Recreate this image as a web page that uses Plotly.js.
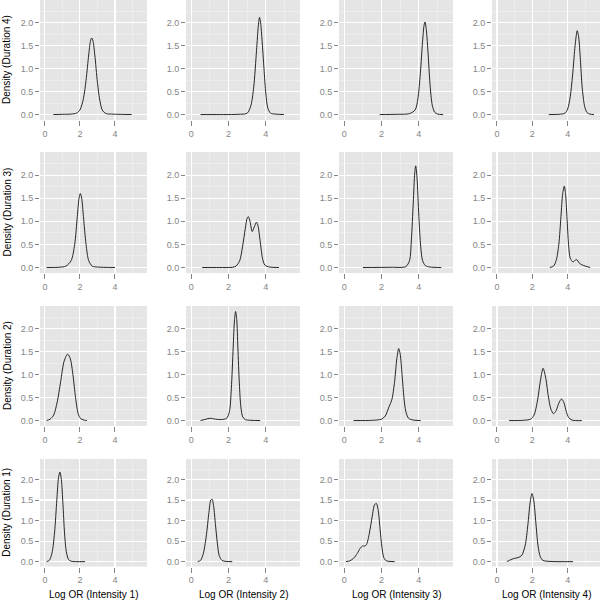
<!DOCTYPE html>
<html>
<head>
<meta charset="utf-8">
<script src="https://cdn.plot.ly/plotly-3.0.1.min.js"></script>
<style>html,body{margin:0;padding:0;background:#fff}#chart{width:600px;height:600px}</style>
</head>
<body>
<div id="chart"></div>
<script>
// Row / column labels
const durations = ['Duration 4', 'Duration 3', 'Duration 2', 'Duration 1'];
const intensities = ['Intensity 1', 'Intensity 2', 'Intensity 3', 'Intensity 4'];

// Tick labels
const xTickVals = [0, 2, 4];
const xTickText = ['0', '2', '4'];
const yTickVals = [0, 0.5, 1, 1.5, 2];
const yTickText = ['0.0', '0.5', '1.0', '1.5', '2.0'];

// Density curves (Log OR, density)
// Duration 4
const d4i1_x = [0.48, 1.0, 1.5, 1.8, 2.0, 2.2, 2.35, 2.5, 2.6, 2.67, 2.75, 2.85, 3.0, 3.15, 3.3, 3.5, 3.8, 4.2, 4.95];
const d4i1_y = [0, 0.005, 0.01, 0.03, 0.1, 0.35, 0.75, 1.3, 1.6, 1.67, 1.6, 1.3, 0.7, 0.28, 0.08, 0.02, 0.01, 0.005, 0];
const d4i2_x = [0.5, 1.5, 2.5, 3.0, 3.2, 3.35, 3.5, 3.6, 3.66, 3.72, 3.8, 3.9, 4.0, 4.1, 4.25, 4.5, 4.97];
const d4i2_y = [0, 0, 0.005, 0.03, 0.2, 0.6, 1.4, 1.95, 2.12, 2.0, 1.6, 1.0, 0.45, 0.15, 0.03, 0.01, 0];
const d4i3_x = [1.9, 2.8, 3.5, 3.8, 3.95, 4.08, 4.2, 4.28, 4.33, 4.4, 4.5, 4.6, 4.72, 4.85, 5.0, 5.3];
const d4i3_y = [0, 0.005, 0.02, 0.1, 0.35, 0.9, 1.6, 1.95, 2.02, 1.85, 1.3, 0.65, 0.2, 0.05, 0.01, 0];
const d4i4_x = [2.93, 3.5, 3.85, 4.0, 4.15, 4.3, 4.42, 4.54, 4.62, 4.72, 4.82, 4.95, 5.08, 5.25, 5.49];
const d4i4_y = [0, 0.005, 0.03, 0.12, 0.4, 0.95, 1.5, 1.83, 1.7, 1.2, 0.6, 0.2, 0.05, 0.01, 0];
// Duration 3
const d3i1_x = [0.1, 0.8, 1.2, 1.5, 1.7, 1.85, 1.95, 2.02, 2.1, 2.2, 2.35, 2.5, 2.7, 3.0, 4.0];
const d3i1_y = [0, 0.005, 0.03, 0.15, 0.5, 1.1, 1.5, 1.6, 1.5, 1.1, 0.5, 0.15, 0.03, 0.01, 0];
const d3i2_x = [0.59, 1.5, 2.2, 2.4, 2.6, 2.75, 2.9, 3.0, 3.06, 3.15, 3.27, 3.38, 3.5, 3.58, 3.7, 3.82, 3.95, 4.2, 4.7];
const d3i2_y = [0, 0, 0.005, 0.03, 0.15, 0.45, 0.85, 1.07, 1.10, 1.0, 0.78, 0.88, 0.98, 0.9, 0.55, 0.2, 0.05, 0.01, 0];
const d3i3_x = [1.0, 2.5, 3.3, 3.5, 3.6, 3.7, 3.78, 3.83, 3.9, 4.0, 4.1, 4.2, 4.35, 4.6, 5.2];
const d3i3_y = [0, 0.005, 0.02, 0.15, 0.6, 1.4, 2.05, 2.2, 1.95, 1.1, 0.45, 0.15, 0.04, 0.01, 0];
const d3i4_x = [2.99, 3.2, 3.35, 3.5, 3.62, 3.72, 3.81, 3.88, 3.96, 4.05, 4.15, 4.3, 4.4, 4.52, 4.65, 4.8, 5.0, 5.27];
const d3i4_y = [0, 0.03, 0.15, 0.5, 1.1, 1.6, 1.76, 1.6, 1.1, 0.5, 0.2, 0.12, 0.15, 0.17, 0.1, 0.06, 0.03, 0];
// Duration 2
const d2i1_x = [0.1, 0.3, 0.5, 0.7, 0.9, 1.1, 1.3, 1.45, 1.6, 1.75, 1.9, 2.05, 2.3, 2.4];
const d2i1_y = [0, 0.03, 0.12, 0.4, 0.85, 1.3, 1.45, 1.35, 1.0, 0.5, 0.15, 0.04, 0.005, 0];
const d2i2_x = [0.5, 0.8, 1.0, 1.3, 1.6, 1.9, 2.05, 2.15, 2.25, 2.32, 2.38, 2.44, 2.5, 2.58, 2.66, 2.76, 2.9, 3.2, 3.7];
const d2i2_y = [0, 0.03, 0.05, 0.03, 0.02, 0.05, 0.2, 0.7, 1.6, 2.2, 2.38, 2.2, 1.6, 0.8, 0.3, 0.08, 0.02, 0.005, 0];
const d2i3_x = [0.5, 1.5, 2.0, 2.2, 2.4, 2.55, 2.7, 2.82, 2.92, 3.0, 3.1, 3.2, 3.3, 3.45, 3.7, 4.1];
const d2i3_y = [0, 0.005, 0.03, 0.1, 0.3, 0.45, 0.85, 1.35, 1.57, 1.45, 1.0, 0.5, 0.2, 0.05, 0.01, 0];
const d2i4_x = [0.69, 1.5, 1.9, 2.1, 2.3, 2.45, 2.61, 2.75, 2.9, 3.05, 3.2, 3.35, 3.5, 3.65, 3.78, 3.92, 4.05, 4.24, 4.8];
const d2i4_y = [0, 0.005, 0.03, 0.12, 0.45, 0.85, 1.14, 0.95, 0.55, 0.25, 0.15, 0.22, 0.38, 0.47, 0.4, 0.2, 0.07, 0.01, 0];
// Duration 1
const d1i1_x = [0.1, 0.25, 0.4, 0.55, 0.68, 0.78, 0.86, 0.94, 1.03, 1.12, 1.22, 1.35, 1.5, 2.29];
const d1i1_y = [0, 0.03, 0.2, 0.7, 1.5, 2.05, 2.18, 2.0, 1.4, 0.7, 0.25, 0.05, 0.01, 0];
const d1i2_x = [0.35, 0.5, 0.65, 0.8, 0.95, 1.05, 1.12, 1.2, 1.3, 1.4, 1.5, 1.65, 1.85, 2.2];
const d1i2_y = [0, 0.03, 0.2, 0.6, 1.2, 1.5, 1.52, 1.35, 0.9, 0.45, 0.15, 0.03, 0.005, 0];
const d1i3_x = [0.09, 0.3, 0.5, 0.7, 0.85, 0.98, 1.1, 1.2, 1.35, 1.5, 1.62, 1.72, 1.82, 1.92, 2.02, 2.12, 2.25, 2.7];
const d1i3_y = [0, 0.02, 0.08, 0.2, 0.32, 0.38, 0.38, 0.42, 0.7, 1.1, 1.38, 1.42, 1.25, 0.8, 0.35, 0.1, 0.02, 0];
const d1i4_x = [0.56, 0.8, 1.0, 1.2, 1.4, 1.6, 1.75, 1.88, 1.98, 2.08, 2.2, 2.32, 2.45, 2.6, 3.0, 4.3];
const d1i4_y = [0, 0.05, 0.08, 0.1, 0.15, 0.4, 0.9, 1.45, 1.66, 1.5, 0.95, 0.4, 0.12, 0.03, 0.005, 0];

const curveX = [
  [d4i1_x, d4i2_x, d4i3_x, d4i4_x],
  [d3i1_x, d3i2_x, d3i3_x, d3i4_x],
  [d2i1_x, d2i2_x, d2i3_x, d2i4_x],
  [d1i1_x, d1i2_x, d1i3_x, d1i4_x]
];
const curveY = [
  [d4i1_y, d4i2_y, d4i3_y, d4i4_y],
  [d3i1_y, d3i2_y, d3i3_y, d3i4_y],
  [d2i1_y, d2i2_y, d2i3_y, d2i4_y],
  [d1i1_y, d1i2_y, d1i3_y, d1i4_y]
];

// Layout geometry (pixels)
const W = 600, H = 600;
const colPx = [[40, 147], [186, 300], [339, 453], [492, 600]];
const rowPx = [[0, 120], [152, 273], [306, 426], [459, 566.5]];
const xRange = [-0.28, 5.83];
const yRange = [-0.119, 2.5];

const tickColor = '#858585';
const fontFam = 'Liberation Sans, Arial, sans-serif';
const traces = [];
const layout = {
  width: W, height: H,
  margin: {l: 0, r: 0, t: 0, b: 0, pad: 0},
  paper_bgcolor: '#FFFFFF',
  plot_bgcolor: '#E5E5E5',
  showlegend: false,
  hovermode: false,
  font: {family: fontFam, size: 9, color: tickColor},
  annotations: []
};

for (let r = 0; r < 4; r++) {
  for (let c = 0; c < 4; c++) {
    const k = r * 4 + c + 1;
    const xa = 'x' + (k === 1 ? '' : k);
    const ya = 'y' + (k === 1 ? '' : k);
    traces.push({
      type: 'scatter', mode: 'lines',
      x: curveX[r][c], y: curveY[r][c],
      xaxis: xa, yaxis: ya,
      line: {color: '#111111', width: 0.9, shape: 'spline', smoothing: 0.8},
      hoverinfo: 'skip'
    });
    const xName = 'xaxis' + (k === 1 ? '' : k);
    const yName = 'yaxis' + (k === 1 ? '' : k);
    layout[xName] = {
      domain: [colPx[c][0] / W, colPx[c][1] / W],
      anchor: ya,
      range: xRange,
      tickmode: 'array', tickvals: xTickVals, ticktext: xTickText,
      ticks: 'outside', ticklen: 5, tickwidth: 1, tickcolor: tickColor,
      tickfont: {size: 9, color: tickColor, family: fontFam},
      showgrid: true, gridcolor: '#FFFFFF', gridwidth: 1.1,
      minor: {tickmode: 'array', tickvals: [1, 3, 5], showgrid: true, gridcolor: '#F2F2F2', gridwidth: 0.6},
      zeroline: false, showline: false, fixedrange: true
    };
    layout[yName] = {
      domain: [1 - rowPx[r][1] / H, 1 - rowPx[r][0] / H],
      anchor: xa,
      range: yRange,
      tickmode: 'array', tickvals: yTickVals, ticktext: yTickText,
      ticks: 'outside', ticklen: 4, tickwidth: 1, tickcolor: tickColor,
      tickfont: {size: 9, color: tickColor, family: fontFam},
      showgrid: true, gridcolor: '#FFFFFF', gridwidth: 1.1,
      minor: {tickmode: 'array', tickvals: [0.25, 0.75, 1.25, 1.75, 2.25], showgrid: true, gridcolor: '#F2F2F2', gridwidth: 0.6},
      zeroline: false, showline: false, fixedrange: true
    };
  }
}

// Row titles (left column)
for (let r = 0; r < 4; r++) {
  layout.annotations.push({
    xref: 'paper', yref: 'paper',
    x: 7 / W, y: 1 - ((rowPx[r][0] + rowPx[r][1]) / 2) / H,
    xanchor: 'center', yanchor: 'middle',
    text: 'Density (' + durations[r] + ')',
    textangle: -90, showarrow: false,
    font: {size: 10, color: '#000000', family: fontFam}
  });
}
// Column titles (bottom row)
for (let c = 0; c < 4; c++) {
  layout.annotations.push({
    xref: 'paper', yref: 'paper',
    x: ((colPx[c][0] + colPx[c][1]) / 2) / W, y: 1 - 594 / H,
    xanchor: 'center', yanchor: 'middle',
    text: 'Log OR (' + intensities[c] + ')',
    showarrow: false,
    font: {size: 10, color: '#000000', family: fontFam}
  });
}

Plotly.newPlot('chart', traces, layout, {staticPlot: true, displayModeBar: false});
</script>
</body>
</html>
